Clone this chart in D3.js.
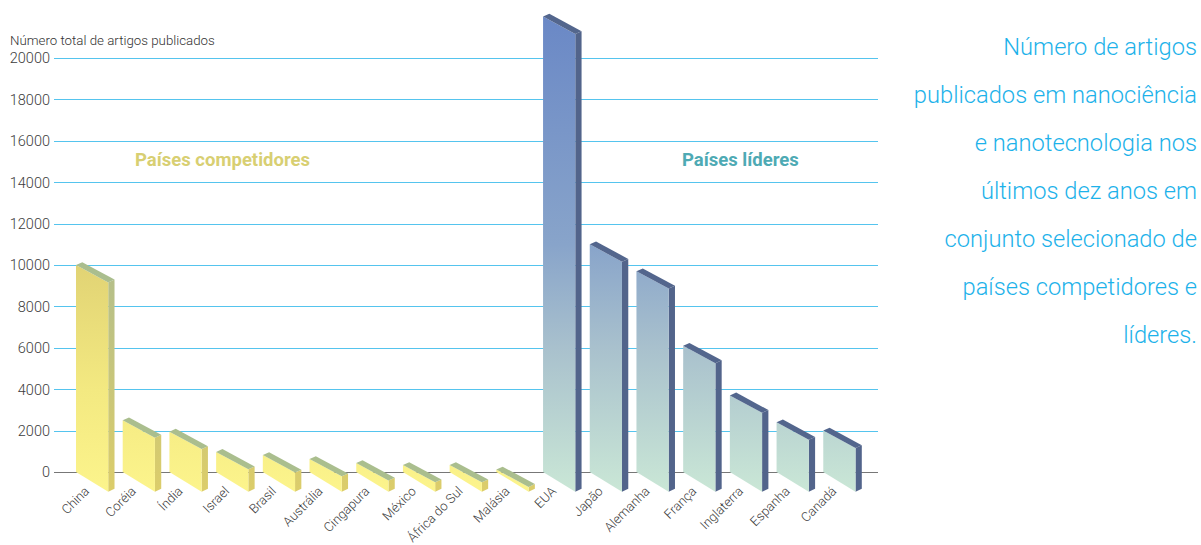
<!DOCTYPE html>
<html>
<head>
<meta charset="utf-8">
<script src="https://cdn.jsdelivr.net/npm/d3@7"></script>
<style>
  html, body { margin: 0; padding: 0; background: #fff; }
  svg { display: block; }
  text { font-family: Roboto, "Liberation Sans", Arial, sans-serif; }
</style>
</head>
<body>
<svg id="chart" width="1201" height="545"></svg>
<script>
// ---- data ----
const competitorCountries = ["China", "Coréia", "Índia", "Israel", "Brasil", "Austrália", "Cingapura", "México", "África do Sul", "Malásia"];
const competitorValues    = [10000, 2500, 1950, 970, 820, 630, 430, 340, 340, 120];
const leaderCountries = ["EUA", "Japão", "Alemanha", "França", "Inglaterra", "Espanha", "Canadá"];
const leaderValues    = [22000, 11000, 9700, 6100, 3700, 2400, 2000];
const yTicks = [0, 2000, 4000, 6000, 8000, 10000, 12000, 14000, 16000, 18000, 20000];
const yAxisTitle = "Número total de artigos publicados";
const groupLabels = ["Países competidores", "Países líderes"];
const titleLines = [
  "Número de artigos",
  "publicados em nanociência",
  "e nanotecnologia nos",
  "últimos dez anos em",
  "conjunto selecionado de",
  "países competidores e",
  "líderes."
];

const bars = competitorCountries.map((c, i) => ({ name: c, value: competitorValues[i], group: "comp" }))
  .concat(leaderCountries.map((c, i) => ({ name: c, value: leaderValues[i], group: "lead" })));

// ---- scales ----
const svg = d3.select("#chart");
const x = d3.scaleBand().domain(bars.map(d => d.name)).range([76, 855.5]).paddingInner(0.31).paddingOuter(0);
const y = d3.scaleLinear().domain([0, 20000]).range([472, 58]);

// ---- gradients ----
const defs = svg.append("defs");
function grad(id, y1, y2, stops) {
  const g = defs.append("linearGradient").attr("id", id)
    .attr("gradientUnits", "userSpaceOnUse").attr("x1", 0).attr("x2", 0).attr("y1", y1).attr("y2", y2);
  stops.forEach(s => g.append("stop").attr("offset", s[0]).attr("stop-color", s[1]));
}
grad("gComp", 265, 492, [[0, "#e1d374"], [0.55, "#f3e981"], [1, "#fcf48c"]]);
grad("gCompSide", 262, 492, [[0, "#b2be8c"], [1, "#dccd6a"]]);
grad("gLead", 16, 492, [[0, "#6a88c6"], [0.48, "#88a4ca"], [0.7, "#a9c1cd"], [1, "#cae7d6"]]);

// ---- grid / axis ----
const gridLeft = 54, gridRight = 878;
const yAxis = d3.axisLeft(y).tickValues(yTicks).tickFormat(d3.format("d"))
  .tickSizeInner(-(gridRight - gridLeft)).tickSizeOuter(0).tickPadding(4);
const ga = svg.append("g").attr("transform", `translate(${gridLeft},0)`).call(yAxis);
ga.select(".domain").remove();
ga.selectAll(".tick line")
  .attr("stroke", d => d === 0 ? "#777" : "#55c4ee")
  .attr("stroke-width", d => d === 0 ? 1.3 : 1)
  .attr("shape-rendering", "crispEdges");
ga.selectAll(".tick text")
  .attr("fill", "#3c3c3c").attr("font-size", 14.5).attr("font-weight", 300)
  .attr("dy", "0.34em");

svg.append("text").attr("x", 10).attr("y", 45).attr("font-size", 13.3).attr("font-weight", 300)
  .attr("fill", "#333").text(yAxisTitle);

// ---- 3D bars ----
const sT = 0.54, sB = 0.61, dx = 6.3, dy = -2.8;
const y0 = y(0);
const bg = svg.append("g");
bars.forEach(d => {
  const x0 = x(d.name), w = x.bandwidth(), yt = y(d.value);
  const isC = d.group === "comp";
  const side = isC ? "url(#gCompSide)" : "#52648b";
  const cap = isC ? "#aabe8e" : "#53668d";
  const front = isC ? "url(#gComp)" : "url(#gLead)";
  bg.append("path").attr("fill", side)
    .attr("d", `M${x0 + w},${yt + w * sT} L${x0 + w + dx},${yt + w * sT + dy} L${x0 + w + dx},${y0 + w * sB + dy} L${x0 + w},${y0 + w * sB} Z`);
  bg.append("path").attr("fill", front)
    .attr("d", `M${x0},${yt} L${x0 + w},${yt + w * sT} L${x0 + w},${y0 + w * sB} L${x0},${y0} Z`);
  bg.append("path").attr("fill", cap)
    .attr("d", `M${x0},${yt} L${x0 + dx},${yt + dy} L${x0 + w + dx},${yt + w * sT + dy} L${x0 + w},${yt + w * sT} Z`);
});

// ---- x labels ----
svg.append("g").selectAll("text").data(bars).join("text")
  .attr("transform", d => `translate(${x(d.name) + 14},${492}) rotate(-45)`)
  .attr("text-anchor", "end")
  .attr("font-size", 13).attr("font-weight", 300).attr("fill", "#3c3c3c")
  .text(d => d.name);

// ---- group labels ----
svg.append("text").attr("x", 135).attr("y", 165.5).attr("font-size", 18.5).attr("font-weight", 700)
  .attr("fill", "#d8cf72").text(groupLabels[0]);
svg.append("text").attr("x", 682).attr("y", 165.5).attr("font-size", 18.5).attr("font-weight", 700)
  .attr("fill", "#4eaab4").text(groupLabels[1]);

// ---- title on right ----
svg.append("g").selectAll("text").data(titleLines).join("text")
  .attr("x", 1197).attr("y", (d, i) => 54.5 + i * 48)
  .attr("text-anchor", "end").attr("font-size", 23.7).attr("font-weight", 300)
  .attr("fill", "#1db2ea").text(d => d);
</script>
</body>
</html>
